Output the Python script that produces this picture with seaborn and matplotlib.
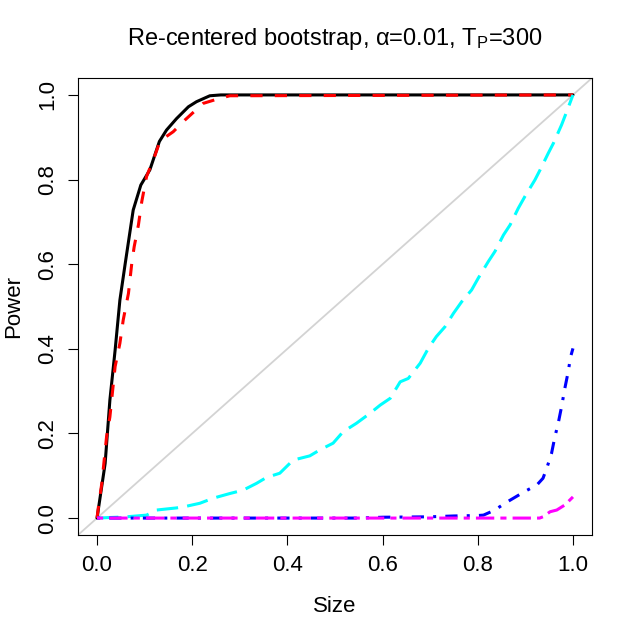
import numpy as np
import matplotlib
matplotlib.use("Agg")
import matplotlib.pyplot as plt
import seaborn as sns

# power curves (x = size, y = power)
black_x = [0, 0.017, 0.027, 0.038, 0.048, 0.059, 0.076, 0.092, 0.111, 0.131, 0.146, 0.167,
           0.192, 0.209, 0.237, 0.26, 1.0]
black_y = [0, 0.129, 0.279, 0.397, 0.515, 0.60, 0.728, 0.787, 0.823, 0.890, 0.917, 0.944,
           0.972, 0.984, 0.998, 1.0, 1.0]

red_x = [0, 0.003, 0.010, 0.020, 0.027, 0.038, 0.048, 0.055, 0.066, 0.073, 0.078, 0.087,
         0.094, 0.104, 0.122, 0.132, 0.146, 0.160, 0.185, 0.223, 0.258, 0.279, 1.0]
red_y = [0, 0.027, 0.082, 0.192, 0.239, 0.358, 0.413, 0.468, 0.531, 0.602, 0.641, 0.693,
         0.748, 0.807, 0.858, 0.890, 0.902, 0.913, 0.941, 0.980, 0.992, 0.998, 1.0]

cyan_x = [0, 0.062, 0.104, 0.125, 0.167, 0.188, 0.216, 0.244, 0.279, 0.307, 0.335, 0.356,
          0.384, 0.412, 0.447, 0.468, 0.496, 0.517, 0.545, 0.574, 0.595, 0.616, 0.637,
          0.654, 0.679, 0.696, 0.713, 0.731, 0.749, 0.766, 0.787, 0.801, 0.822, 0.836,
          0.854, 0.868, 0.885, 0.899, 0.920, 0.931, 0.948, 0.959, 0.976, 0.987, 1.0]
cyan_y = [0, 0.003, 0.007, 0.019, 0.024, 0.028, 0.035, 0.047, 0.058, 0.066, 0.082, 0.096,
          0.106, 0.137, 0.147, 0.161, 0.177, 0.204, 0.224, 0.248, 0.267, 0.283, 0.322,
          0.330, 0.366, 0.401, 0.429, 0.452, 0.484, 0.511, 0.539, 0.567, 0.606, 0.630,
          0.669, 0.693, 0.732, 0.760, 0.799, 0.823, 0.862, 0.886, 0.929, 0.961, 1.0]

blue_x = [0, 0.55, 0.6, 0.7, 0.75, 0.80, 0.812, 0.836, 0.857, 0.875, 0.899, 0.924, 0.937,
          0.945, 0.955, 0.962, 0.969, 0.976, 0.983, 0.990, 0.995, 1.0]
blue_y = [0, 0, 0.002, 0.003, 0.005, 0.006, 0.007, 0.019, 0.035, 0.047, 0.063, 0.078, 0.094,
          0.118, 0.153, 0.192, 0.224, 0.263, 0.307, 0.346, 0.381, 0.401]

magenta_x = [0, 0.93, 0.937, 0.952, 0.966, 0.983, 1.0]
magenta_y = [0, 0, 0.003, 0.015, 0.019, 0.031, 0.05]

ticks = [0.0, 0.2, 0.4, 0.6, 0.8, 1.0]

sns.set_style("white")
plt.rcParams['font.family'] = ['Liberation Sans', 'DejaVu Sans']
plt.rcParams['mathtext.fontset'] = 'custom'
plt.rcParams['mathtext.rm'] = 'Liberation Sans'
plt.rcParams['mathtext.it'] = 'Liberation Sans:italic'
plt.rcParams['text.color'] = 'black'
plt.rcParams['axes.labelcolor'] = 'black'
plt.rcParams['xtick.color'] = 'black'
plt.rcParams['ytick.color'] = 'black'

fig = plt.figure(figsize=(6.34, 6.33), dpi=100)
ax = fig.add_axes([78/634, 1-535/633, (592-78)/634, (535-78)/633])

ax.axline((0, 0), slope=1, color='lightgrey', lw=1.3, zorder=1)

series = [
    (black_x, black_y, 'black', '-'),
    (red_x, red_y, 'red', (0, (4, 4))),
    (cyan_x, cyan_y, 'cyan', (0, (7, 3))),
    (blue_x, blue_y, 'blue', (0, (1, 3, 4, 3))),
    (magenta_x, magenta_y, 'magenta', (0, (2, 2, 6, 2))),
]
for i, (xs, ys, col, ls) in enumerate(series):
    sns.lineplot(x=xs, y=ys, ax=ax, color=col, lw=2.2, linestyle=ls,
                 estimator=None, sort=False, zorder=2+i)

ax.set_xlim(-0.04, 1.04)
ax.set_ylim(-0.04, 1.04)
ax.set_xticks(ticks)
ax.set_yticks(ticks)
ax.set_xticklabels(["%.1f" % t for t in ticks])
ax.set_yticklabels(["%.1f" % t for t in ticks], rotation=90, va='center')
ax.tick_params(axis='both', direction='out', length=7.5, width=0.8, color='black',
               labelsize=16, pad=7, bottom=True, left=True)
for sp in ax.spines.values():
    sp.set_color('black')
    sp.set_linewidth(0.8)

ax.set_xlabel("Size", fontsize=16, labelpad=14)
ax.set_ylabel("Power", fontsize=16, labelpad=9)
ax.set_title("Re-centered bootstrap, α=0.01, T$_\\mathrm{P}$=300", fontsize=17, pad=24)

fig.savefig("out.png", dpi=100)
